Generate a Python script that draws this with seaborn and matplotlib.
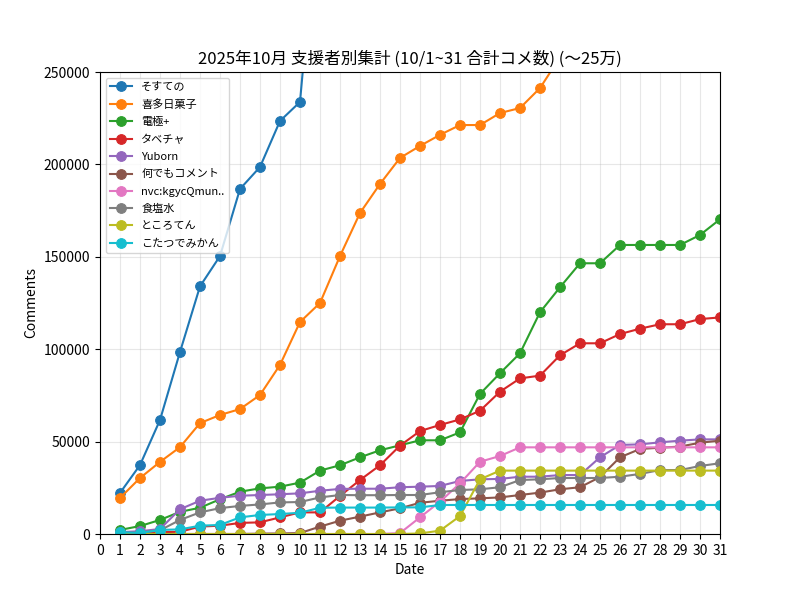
import numpy as np
import pandas as pd
import matplotlib
matplotlib.use('Agg')
import matplotlib.pyplot as plt
import seaborn as sns

plt.rcParams['font.family'] = ['Noto Sans CJK JP', 'DejaVu Sans']
plt.rcParams['axes.unicode_minus'] = False

days = list(range(1, 32))

names = ['そすての', '喜多日菓子', '電極+', 'タベチャ', 'Yuborn', '何でもコメント',
         'nvc:kgycQmun..', '食塩水', 'ところてん', 'こたつでみかん']

# 各支援者の累計コメ数 (上限 25万 を超える部分は画面外)
sosuteno = [22200, 37300, 61700, 98500, 134000, 150400, 186700, 198600, 223500, 233800,
            354000, 380000, 405000, 430000, 452000, 470000, 488000, 505000, 520000, 538000,
            555000, 572000, 590000, 605000, 618000, 632000, 645000, 660000, 672000, 685000, 698000]
kita = [19500, 30300, 39000, 47000, 60000, 64400, 67600, 75200, 91500, 114700,
        125000, 150400, 173700, 189400, 203500, 210000, 216000, 221300, 221300, 227800,
        230500, 241300, 258000, 270000, 280000, 290000, 298000, 305000, 312000, 320000, 328000]
denkyoku = [2200, 4300, 7600, 12000, 14200, 18800, 22900, 24700, 25600, 27800,
            34300, 37200, 41500, 45300, 48000, 50700, 50700, 55000, 75800, 87000,
            97800, 120000, 133500, 146500, 146500, 156400, 156400, 156400, 156400, 161800, 170300]
tabecha = [500, 500, 1000, 1200, 4000, 4500, 6000, 6300, 9000, 11700,
           11700, 20600, 29200, 37200, 47800, 55700, 59000, 62000, 66700, 77000,
           84200, 85700, 96700, 103200, 103200, 108200, 111100, 113500, 113500, 116300, 117200]
yuborn = [1000, 1500, 2700, 13400, 18000, 19600, 20700, 21100, 21500, 22000,
          23400, 24400, 24500, 24500, 25300, 25600, 26000, 28700, 29600, 29800,
          31000, 31000, 31900, 31900, 41500, 48200, 48500, 49600, 50500, 51200, 51200]
nandemo = [0, 0, 0, 0, 0, 0, 0, 200, 300, 500,
           4000, 7200, 9400, 11700, 13900, 16900, 18000, 18900, 19300, 19800,
           21100, 22400, 24200, 25300, 30800, 41500, 46000, 46700, 47300, 49400, 50500]
nvc = [0, 0, 0, 0, 0, 0, 0, 0, 0, 0,
       0, 0, 0, 0, 500, 9000, 17500, 27400, 39100, 42200,
       46900, 46900, 46900, 46900, 46900, 46900, 46900, 46900, 46900, 46900, 46900]
shokuensui = [500, 800, 2000, 7600, 11700, 14000, 15200, 16000, 17100, 17300,
              19800, 21100, 21000, 21000, 21100, 21100, 22600, 23800, 24200, 25300,
              29200, 29600, 30300, 30300, 30300, 31000, 32500, 34600, 34600, 36800, 38300]
tokoroten = [0, 0, 0, 0, 0, 0, 0, 0, 0, 0,
             0, 0, 0, 0, 0, 300, 1800, 9700, 29600, 34300,
             34300, 34300, 34300, 34300, 34300, 34300, 34300, 34300, 34300, 34300, 34300]
kotatsu = [1000, 500, 2200, 2500, 4500, 4900, 9000, 10300, 10800, 11500,
           14200, 14300, 14300, 14300, 14400, 14400, 15700, 15700, 15700, 15700,
           15700, 15700, 15700, 15700, 15700, 15700, 15700, 15700, 15700, 15700, 15700]

series = [sosuteno, kita, denkyoku, tabecha, yuborn, nandemo, nvc, shokuensui, tokoroten, kotatsu]

df = pd.DataFrame({
    'Date': days * len(names),
    'Comments': [v for s in series for v in s],
    'name': [n for n in names for _ in days],
})

palette = sns.color_palette('tab10', len(names))

fig, ax = plt.subplots(figsize=(8, 6), dpi=100)

for name, color in zip(names, palette):
    sub = df[df['name'] == name]
    sns.lineplot(data=sub, x='Date', y='Comments', color=color, marker='o',
                 markersize=7, markeredgecolor=color, linewidth=1.5,
                 label=name, ax=ax)

ax.set_xlim(0, 31)
ax.set_ylim(0, 250000)
ax.set_xticks(range(0, 32))
ax.set_title('2025年10月 支援者別集計 (10/1~31 合計コメ数) (〜25万)', fontsize=12)
ax.set_xlabel('Date')
ax.set_ylabel('Comments')
ax.grid(True, alpha=0.3)
ax.legend(loc='upper left', fontsize=8, labelspacing=0.65)

plt.savefig('out.png', dpi=100)
